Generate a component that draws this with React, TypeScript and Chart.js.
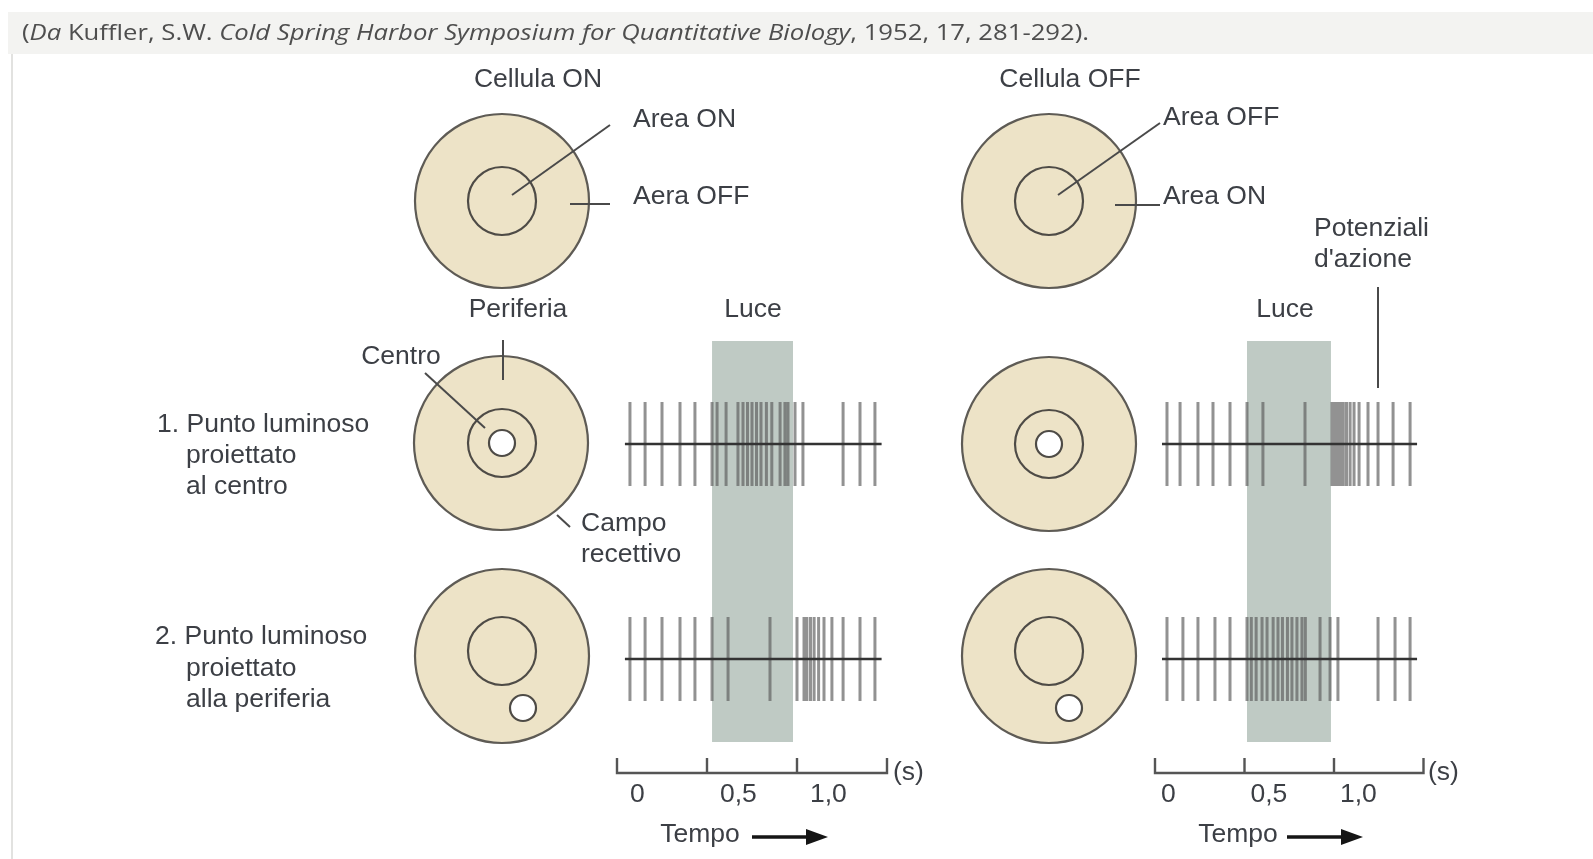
import React, { useEffect, useRef } from "react";
import { Chart, registerables } from "chart.js";

Chart.register(...registerables);

const W = 1593;
const H = 859;

// ---------------- DATA (tempi in secondi) ----------------
const timeTicks = [0, 0.5, 1.0];
const timeTickLabels = ["0", "0,5", "1,0"];
const timeAxisEnd = 1.5;

const lightCellOn = [0.528, 0.978];
const lightCellOff = [0.514, 0.983];

const traceSpanOn = [0.044, 1.47];
const traceSpanOff = [0.039, 1.464];

// Cellula ON – 1. punto luminoso al centro
const spikesOnCentro = [
  0.072, 0.156, 0.25, 0.35, 0.433, 0.528, 0.556, 0.606, 0.672, 0.7, 0.725,
  0.75, 0.775, 0.8, 0.83, 0.86, 0.906, 0.933, 0.95, 0.989, 1.033, 1.256,
  1.35, 1.433,
];
// Cellula ON – 2. punto luminoso alla periferia
const spikesOnPeriferia = [
  0.072, 0.156, 0.25, 0.35, 0.433, 0.528, 0.617, 0.85, 1.0, 1.039, 1.055,
  1.075, 1.095, 1.12, 1.15, 1.194, 1.256, 1.35, 1.433,
];
// Cellula OFF – 1. punto luminoso al centro
const spikesOffCentro = [
  0.067, 0.14, 0.24, 0.324, 0.419, 0.514, 0.603, 0.838, 0.989, 1.004, 1.02,
  1.036, 1.052, 1.07, 1.09, 1.112, 1.14, 1.19, 1.246, 1.33, 1.425,
];
// Cellula OFF – 2. punto luminoso alla periferia
const spikesOffPeriferia = [
  0.067, 0.156, 0.24, 0.335, 0.419, 0.514, 0.538, 0.565, 0.598, 0.626, 0.66,
  0.687, 0.712, 0.74, 0.765, 0.793, 0.821, 0.84, 0.922, 0.978, 1.022, 1.246,
  1.341, 1.425,
];

// ---------------- LAYOUT ----------------
const panelOn = { zeroPx: 617, pxPerSec: 180, labelDx: 13 };
const panelOff = { zeroPx: 1155, pxPerSec: 179, labelDx: 6 };
const rowBaseY = [444, 659];
const spikeHalf = 42;
const lightTop = 341;
const lightBottom = 742;
const axisY = 773;
const tickLen = 15;

const TEXT_COLOR = "#3c3f45";
const LINE_COLOR = "#4a4a4a";
const FIELD_FILL = "#ede3c7";
const FIELD_STROKE = "#5e5b55";
const LIGHT_FILL = "#bfcac4";
const FONT = '"Liberation Sans", Arial, Helvetica, sans-serif';

function spikeData(times: number[], base: number) {
  const pts: any[] = [];
  times.forEach((t) => {
    pts.push({ x: t, y: base - spikeHalf }, { x: t, y: base + spikeHalf }, { x: t, y: null });
  });
  return pts;
}

function axisData(end: number) {
  const pts: any[] = [
    { x: 0, y: axisY - tickLen },
    { x: 0, y: axisY },
    { x: end, y: axisY },
    { x: end, y: axisY - tickLen },
    { x: end, y: null },
  ];
  timeTicks
    .filter((t) => t > 0 && t < end)
    .forEach((t) => pts.push({ x: t, y: axisY }, { x: t, y: axisY - tickLen }, { x: t, y: null }));
  return pts;
}

function baseline(span: number[], base: number) {
  return [
    { x: span[0], y: base },
    { x: span[1], y: base },
  ];
}

function timeScale(p: { zeroPx: number; pxPerSec: number }) {
  return {
    type: "linear" as const,
    axis: "x" as const,
    display: false,
    min: -p.zeroPx / p.pxPerSec,
    max: (W - p.zeroPx) / p.pxPerSec,
  };
}

const spikeStyle = {
  type: "line" as const,
  borderColor: "rgba(95,95,95,0.68)",
  borderWidth: 3,
  pointRadius: 0,
  tension: 0,
  spanGaps: false,
  fill: false,
  order: 1,
  yAxisID: "y",
};
const lineStyle = {
  type: "line" as const,
  borderColor: "#333",
  borderWidth: 2.4,
  pointRadius: 0,
  tension: 0,
  spanGaps: false,
  fill: false,
  order: 0,
  yAxisID: "y",
};
const axisStyle = { ...lineStyle, borderColor: "#555", borderWidth: 2.4, borderJoinStyle: "miter" as const };
const lightStyle = {
  type: "line" as const,
  borderWidth: 0,
  borderColor: "rgba(0,0,0,0)",
  backgroundColor: LIGHT_FILL,
  pointRadius: 0,
  fill: { value: lightBottom },
  order: 2,
  yAxisID: "y",
};

// ---------------- DIAGRAM PLUGIN ----------------
const fields = [
  { c: [502, 201], inner: [502, 201], spot: null as number[] | null },
  { c: [1049, 201], inner: [1049, 201], spot: null },
  { c: [501, 443], inner: [502, 443], spot: [502, 443] },
  { c: [1049, 444], inner: [1049, 444], spot: [1049, 444] },
  { c: [502, 656], inner: [502, 651], spot: [523, 708] },
  { c: [1049, 656], inner: [1049, 651], spot: [1069, 708] },
];
const FIELD_R = 87;
const INNER_R = 34;
const SPOT_R = 13;

const leaders: number[][] = [
  [512, 195, 610, 125],
  [570, 204, 610, 204],
  [1058, 195, 1160, 123],
  [1115, 205, 1160, 205],
  [503, 340, 503, 380],
  [425, 373, 485, 428],
  [557, 515, 570, 527],
  [1378, 287, 1378, 388],
];

const labels: [string, number, number, CanvasTextAlign][] = [
  ["Cellula ON", 538, 80, "center"],
  ["Cellula OFF", 1070, 80, "center"],
  ["Area ON", 633, 120, "left"],
  ["Aera OFF", 633, 197, "left"],
  ["Area OFF", 1163, 118, "left"],
  ["Area ON", 1163, 197, "left"],
  ["Potenziali", 1314, 229, "left"],
  ["d'azione", 1314, 260, "left"],
  ["Periferia", 518, 310, "center"],
  ["Luce", 753, 310, "center"],
  ["Luce", 1285, 310, "center"],
  ["Centro", 401, 357, "center"],
  ["1. Punto luminoso", 157, 425, "left"],
  ["proiettato", 186, 456, "left"],
  ["al centro", 186, 487, "left"],
  ["Campo", 581, 524, "left"],
  ["recettivo", 581, 555, "left"],
  ["2. Punto luminoso", 155, 637, "left"],
  ["proiettato", 186, 669, "left"],
  ["alla periferia", 186, 700, "left"],
  ["(s)", 893, 773, "left"],
  ["(s)", 1428, 773, "left"],
  ["Tempo", 700, 835, "center"],
  ["Tempo", 1238, 835, "center"],
];
const arrows: number[][] = [
  [752, 828, 837],
  [1287, 1363, 837],
];

const citation: [string, boolean][] = [
  ["(", false],
  ["Da", true],
  [" Kuffler, S.W. ", false],
  ["Cold Spring Harbor Symposium for Quantitative Biology", true],
  [", 1952, 17, 281-292).", false],
];

const diagramPlugin = {
  id: "diagram",
  beforeDraw(chart: any) {
    const ctx: CanvasRenderingContext2D = chart.ctx;
    ctx.save();
    ctx.fillStyle = "#ffffff";
    ctx.fillRect(0, 0, W, H);
    ctx.fillStyle = "#f3f3f1";
    ctx.fillRect(8, 12, W - 8, 42);
    ctx.strokeStyle = "#e2e2e0";
    ctx.lineWidth = 2;
    ctx.beginPath();
    ctx.moveTo(12, 54);
    ctx.lineTo(12, H);
    ctx.stroke();
    // citation
    const fontN = `21px "Open Sans", "DejaVu Sans", sans-serif`;
    const fontI = `italic 21px "Open Sans", "DejaVu Sans", sans-serif`;
    let total = 0;
    citation.forEach(([s, it]) => {
      ctx.font = it ? fontI : fontN;
      total += ctx.measureText(s).width;
    });
    const startX = 22;
    const targetW = 1067;
    ctx.translate(startX, 34);
    ctx.scale(targetW / total, 1);
    ctx.fillStyle = "#4e4e4e";
    ctx.textBaseline = "middle";
    ctx.textAlign = "left";
    let x = 0;
    citation.forEach(([s, it]) => {
      ctx.font = it ? fontI : fontN;
      ctx.fillText(s, x, 0);
      x += ctx.measureText(s).width;
    });
    ctx.restore();
  },
  beforeDatasetsDraw(chart: any) {
    const ctx: CanvasRenderingContext2D = chart.ctx;
    const sx = chart.scales.x;
    const sy = chart.scales.y;
    const X = (v: number) => sx.getPixelForValue(v);
    const Y = (v: number) => sy.getPixelForValue(v);
    ctx.save();
    fields.forEach((f) => {
      ctx.beginPath();
      ctx.arc(X(f.c[0]), Y(f.c[1]), FIELD_R, 0, Math.PI * 2);
      ctx.fillStyle = FIELD_FILL;
      ctx.fill();
      ctx.lineWidth = 2.2;
      ctx.strokeStyle = FIELD_STROKE;
      ctx.stroke();
      ctx.beginPath();
      ctx.arc(X(f.inner[0]), Y(f.inner[1]), INNER_R, 0, Math.PI * 2);
      ctx.lineWidth = 2.2;
      ctx.strokeStyle = "#4e4b46";
      ctx.stroke();
      if (f.spot) {
        ctx.beginPath();
        ctx.arc(X(f.spot[0]), Y(f.spot[1]), SPOT_R, 0, Math.PI * 2);
        ctx.fillStyle = "#ffffff";
        ctx.fill();
        ctx.lineWidth = 2.2;
        ctx.strokeStyle = "#4e4b46";
        ctx.stroke();
      }
    });
    ctx.restore();
  },
  afterDatasetsDraw(chart: any) {
    const ctx: CanvasRenderingContext2D = chart.ctx;
    const sx = chart.scales.x;
    const sy = chart.scales.y;
    const X = (v: number) => sx.getPixelForValue(v);
    const Y = (v: number) => sy.getPixelForValue(v);
    ctx.save();
    ctx.strokeStyle = LINE_COLOR;
    ctx.lineWidth = 2;
    leaders.forEach(([x1, y1, x2, y2]) => {
      ctx.beginPath();
      ctx.moveTo(X(x1), Y(y1));
      ctx.lineTo(X(x2), Y(y2));
      ctx.stroke();
    });
    ctx.fillStyle = TEXT_COLOR;
    ctx.font = `26.5px ${FONT}`;
    ctx.textBaseline = "middle";
    labels.forEach(([s, x, y, a]) => {
      ctx.textAlign = a;
      ctx.fillText(s, X(x), Y(y));
    });
    ctx.textAlign = "left";
    const tOn = chart.scales.tOn;
    const tOff = chart.scales.tOff;
    timeTicks.forEach((t, i) => {
      ctx.fillText(timeTickLabels[i], tOn.getPixelForValue(t) + panelOn.labelDx, Y(795));
      ctx.fillText(timeTickLabels[i], tOff.getPixelForValue(t) + panelOff.labelDx, Y(795));
    });
    ctx.strokeStyle = "#151515";
    ctx.fillStyle = "#151515";
    ctx.lineWidth = 3.4;
    arrows.forEach(([x1, x2, y]) => {
      ctx.beginPath();
      ctx.moveTo(X(x1), Y(y));
      ctx.lineTo(X(x2) - 16, Y(y));
      ctx.stroke();
      ctx.beginPath();
      ctx.moveTo(X(x2), Y(y));
      ctx.lineTo(X(x2) - 22, Y(y) - 8);
      ctx.lineTo(X(x2) - 22, Y(y) + 8);
      ctx.closePath();
      ctx.fill();
    });
    ctx.restore();
  },
};

export default function App() {
  const ref = useRef<HTMLCanvasElement>(null);
  useEffect(() => {
    const canvas = ref.current;
    if (!canvas) return;
    const chart = new Chart(canvas, {
      type: "line",
      data: {
        datasets: [
          { ...lineStyle, xAxisID: "tOn", data: baseline(traceSpanOn, rowBaseY[0]) },
          { ...lineStyle, xAxisID: "tOn", data: baseline(traceSpanOn, rowBaseY[1]) },
          { ...lineStyle, xAxisID: "tOff", data: baseline(traceSpanOff, rowBaseY[0]) },
          { ...lineStyle, xAxisID: "tOff", data: baseline(traceSpanOff, rowBaseY[1]) },
          { ...axisStyle, xAxisID: "tOn", data: axisData(timeAxisEnd) },
          { ...axisStyle, xAxisID: "tOff", data: axisData(timeAxisEnd) },
          { ...spikeStyle, xAxisID: "tOn", data: spikeData(spikesOnCentro, rowBaseY[0]) },
          { ...spikeStyle, xAxisID: "tOn", data: spikeData(spikesOnPeriferia, rowBaseY[1]) },
          { ...spikeStyle, xAxisID: "tOff", data: spikeData(spikesOffCentro, rowBaseY[0]) },
          { ...spikeStyle, xAxisID: "tOff", data: spikeData(spikesOffPeriferia, rowBaseY[1]) },
          {
            ...lightStyle,
            xAxisID: "tOn",
            data: [
              { x: lightCellOn[0], y: lightTop },
              { x: lightCellOn[1], y: lightTop },
            ],
          },
          {
            ...lightStyle,
            xAxisID: "tOff",
            data: [
              { x: lightCellOff[0], y: lightTop },
              { x: lightCellOff[1], y: lightTop },
            ],
          },
        ] as any,
      },
      options: {
        responsive: false,
        animation: false,
        events: [],
        layout: { padding: 0 },
        plugins: {
          legend: { display: false },
          tooltip: { enabled: false },
          title: { display: false },
        },
        scales: {
          x: { type: "linear", display: false, min: 0, max: W },
          y: { type: "linear", display: false, min: 0, max: H, reverse: true },
          tOn: timeScale(panelOn),
          tOff: timeScale(panelOff),
        } as any,
      },
      plugins: [diagramPlugin],
    });
    return () => chart.destroy();
  }, []);
  return (
    <div style={{ position: "absolute", left: 0, top: 0, width: W, height: H, background: "#fff" }}>
      <canvas ref={ref} width={W} height={H} style={{ display: "block", width: W, height: H }} />
    </div>
  );
}
